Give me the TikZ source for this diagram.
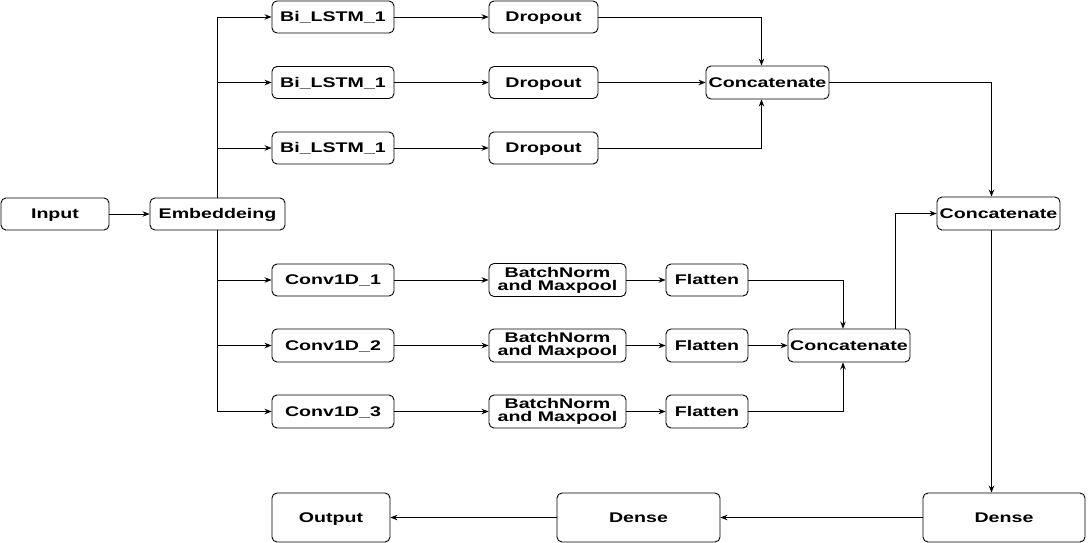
\documentclass[tikz,border=0pt]{standalone}
\usepackage{fontspec}
\setmainfont{Liberation Sans}[FakeStretch=1.4]
\usetikzlibrary{arrows.meta}
\begin{document}
\begin{tikzpicture}[x=1pt,y=-1pt,
  box/.style={draw, rounded corners=5pt, line width=0.9pt, inner sep=0pt, align=center,
    text height=10pt, text depth=0.5pt,
    font=\bfseries\fontsize{14}{13}\selectfont},
  two/.style={text height=, text depth=},
  arr/.style={-{Stealth[length=7pt,width=5.5pt]}, line width=0.9pt}]
\useasboundingbox (0,0) rectangle (1088,543);
% nodes
\node[box, minimum width=108pt, minimum height=32pt] (in) at (55,214) {Input};
\node[box, minimum width=135pt, minimum height=32pt] (emb) at (217.5,214) {Embeddeing};
\node[box, minimum width=122pt, minimum height=32pt] (l1) at (333,17) {Bi\_LSTM\_1};
\node[box, minimum width=122pt, minimum height=32pt] (l2) at (333,82.5) {Bi\_LSTM\_1};
\node[box, minimum width=122pt, minimum height=32pt] (l3) at (333,148) {Bi\_LSTM\_1};
\node[box, minimum width=109pt, minimum height=32pt] (d1) at (543.5,17) {Dropout};
\node[box, minimum width=109pt, minimum height=32pt] (d2) at (543.5,82.5) {Dropout};
\node[box, minimum width=109pt, minimum height=32pt] (d3) at (543.5,148) {Dropout};
\node[box, minimum width=123pt, minimum height=33pt] (c1) at (767.5,82.5) {Concatenate};
\node[box, minimum width=123pt, minimum height=33pt] (c3) at (998.5,213.5) {Concatenate};
\node[box, minimum width=122pt, minimum height=32pt] (v1) at (333,280) {Conv1D\_1};
\node[box, minimum width=122pt, minimum height=33pt] (v2) at (333,345.5) {Conv1D\_2};
\node[box, minimum width=122pt, minimum height=33pt] (v3) at (333,411.5) {Conv1D\_3};
\node[box, two, minimum width=137pt, minimum height=33pt] (b1) at (557.5,280) {BatchNorm\\and Maxpool};
\node[box, two, minimum width=137pt, minimum height=33pt] (b2) at (557.5,345.5) {BatchNorm\\and Maxpool};
\node[box, two, minimum width=137pt, minimum height=33pt] (b3) at (557.5,411.5) {BatchNorm\\and Maxpool};
\node[box, minimum width=82pt, minimum height=32pt] (f1) at (707,280) {Flatten};
\node[box, minimum width=82pt, minimum height=33pt] (f2) at (707,345.5) {Flatten};
\node[box, minimum width=82pt, minimum height=33pt] (f3) at (707,411.5) {Flatten};
\node[box, minimum width=122pt, minimum height=33pt] (c2) at (849,345.5) {Concatenate};
\node[box, minimum width=162pt, minimum height=49pt] (dn1) at (1004,517.5) {Dense};
\node[box, minimum width=163pt, minimum height=49pt] (dn2) at (638.5,517.5) {Dense};
\node[box, minimum width=118pt, minimum height=49pt] (out) at (331,517.5) {Output};
% connectors
\draw[arr] (in) -- (emb);
\draw[arr] (emb.north) |- (l1.west);
\draw[arr] (emb.north) |- (l2.west);
\draw[arr] (emb.north) |- (l3.west);
\draw[arr] (emb.south) |- (v1.west);
\draw[arr] (emb.south) |- (v2.west);
\draw[arr] (emb.south) |- (v3.west);
\draw[arr] (l1) -- (d1);
\draw[arr] (l2) -- (d2);
\draw[arr] (l3) -- (d3);
\draw[arr] (d1.east) -| ([xshift=-6pt]c1.north);
\draw[arr] (d2) -- (c1);
\draw[arr] (d3.east) -| ([xshift=-6pt]c1.south);
\draw[arr] (c1.east) -| ([xshift=-7pt]c3.north);
\draw[arr] (v1) -- (b1);
\draw[arr] (v2) -- (b2);
\draw[arr] (v3) -- (b3);
\draw[arr] (b1) -- (f1);
\draw[arr] (b2) -- (f2);
\draw[arr] (b3) -- (f3);
\draw[arr] (f1.east) -| ([xshift=-6pt]c2.north);
\draw[arr] (f2) -- (c2);
\draw[arr] (f3.east) -| ([xshift=-6pt]c2.south);
\draw[arr] ([xshift=46pt]c2.north) |- (c3.west);
\draw[arr] ([xshift=-7pt]c3.south) -- ([xshift=-7pt]c3.south |- dn1.north);
\draw[arr] (dn1) -- (dn2);
\draw[arr] (dn2) -- (out);
\end{tikzpicture}
\end{document}
